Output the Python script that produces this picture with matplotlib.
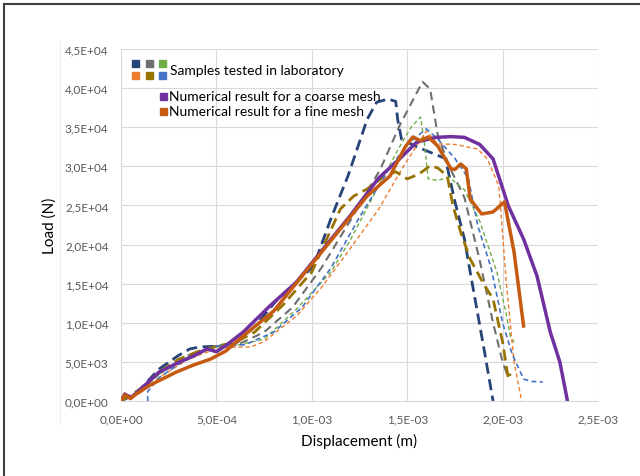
import matplotlib

matplotlib.use("Agg")
import matplotlib.pyplot as plt
from matplotlib.lines import Line2D
from matplotlib.patches import Rectangle
from matplotlib.ticker import FuncFormatter, MultipleLocator

plt.rcParams["font.family"] = ["Lato", "DejaVu Sans"]

# displacement in 1e-3 m, load in N
coarse_x = [0, 0.02, 0.05, 0.08, 0.12, 0.2, 0.3, 0.38, 0.45, 0.5, 0.55, 0.64, 0.78, 0.92,
            1.03, 1.2, 1.35, 1.46, 1.55, 1.65, 1.73, 1.8, 1.88, 1.95, 2.03, 2.11, 2.18,
            2.25, 2.3, 2.34]
coarse_y = [0, 900, 400, 1000, 1900, 3700, 4900, 5750, 6650, 6300, 7100, 8800, 12150, 15200,
            18550, 23650, 28500, 30950, 33100, 33700, 33800, 33700, 32800, 30950, 24940,
            20700, 16000, 8800, 4990, 0]

fine_x = [0, 0.02, 0.05, 0.08, 0.15, 0.29, 0.38, 0.47, 0.55, 0.64, 0.8, 1.0, 1.15, 1.29,
          1.41, 1.49, 1.53, 1.57, 1.61, 1.66, 1.73, 1.75, 1.78, 1.81, 1.83, 1.89, 1.95,
          2.01, 2.06, 2.11]
fine_y = [0, 800, 300, 900, 2000, 3700, 4600, 5370, 6400, 8300, 11500, 17500, 22000, 26200,
          28770, 32500, 33760, 33250, 33760, 32600, 29670, 29600, 30300, 29670, 25830,
          23910, 24170, 25450, 19050, 9590]

navy_x = [0, 0.05, 0.1, 0.2, 0.3, 0.36, 0.41, 0.52, 0.61, 0.7, 0.82, 1.01, 1.1, 1.19, 1.29,
          1.34, 1.4, 1.44, 1.45, 1.47, 1.55, 1.62, 1.7, 1.75, 1.8, 1.83, 1.9, 1.95]
navy_y = [0, 600, 1500, 4100, 5800, 6650, 6900, 7030, 7540, 9500, 13000, 17260, 23300,
          28800, 36000, 38200, 38600, 38300, 36000, 33500, 32500, 31800, 31000, 25500,
          20700, 16500, 7000, 0]

gray_x = [0, 0.1, 0.2, 0.35, 0.5, 0.62, 0.75, 0.9, 1.05, 1.2, 1.36, 1.46, 1.58, 1.62, 1.66,
          1.72, 1.8, 1.88, 1.95, 2.0, 2.03]
gray_y = [0, 1200, 3500, 5800, 7000, 7300, 8800, 12000, 17000, 23000, 29670, 35200, 40800,
          39900, 34000, 30000, 26000, 18000, 10000, 5000, 3000]

green_x = [0, 0.1, 0.2, 0.35, 0.5, 0.62, 0.75, 0.92, 1.1, 1.2, 1.35, 1.46, 1.52, 1.57, 1.59,
           1.61, 1.66, 1.72, 1.8, 1.88, 1.97, 2.02, 2.04, 2.06]
green_y = [0, 1300, 3400, 5600, 6900, 7200, 7900, 11760, 16500, 20500, 27500, 32500, 35000,
           36300, 33000, 28400, 28200, 28600, 27000, 23000, 16500, 11000, 8310, 7500]

orange_x = [0, 0.1, 0.2, 0.35, 0.5, 0.6, 0.68, 0.75, 0.92, 1.05, 1.2, 1.35, 1.48, 1.6, 1.66,
            1.75, 1.87, 1.92, 1.98, 2.02, 2.06, 2.1]
orange_y = [0, 1000, 3000, 5300, 6700, 6900, 6900, 7600, 10870, 14500, 19440, 24500, 30000,
            34500, 32870, 32800, 32200, 30950, 27500, 15000, 5000, 0]

olive_x = [0, 0.1, 0.2, 0.3, 0.4, 0.5, 0.6, 0.7, 0.85, 1.0, 1.15, 1.22, 1.29, 1.38, 1.44,
           1.5, 1.56, 1.62, 1.66, 1.71, 1.74, 1.78, 1.83, 1.9, 1.95, 2.0, 2.03, 2.04]
olive_y = [0, 1500, 3700, 5300, 6300, 7000, 7500, 8800, 12300, 16500, 24550, 26200, 27100,
           28770, 29300, 28390, 29000, 30050, 29800, 28770, 24940, 21600, 18150, 15000,
           13040, 7540, 2810, 3500]

blue_x = [0.14, 0.14, 0.2, 0.35, 0.5, 0.65, 0.8, 0.95, 1.1, 1.25, 1.4, 1.5, 1.6, 1.66, 1.75,
          1.82, 1.87, 1.94, 2.0, 2.05, 2.11, 2.15, 2.21]
blue_y = [0, 1200, 3000, 5500, 7000, 7200, 8800, 12000, 17000, 23500, 29500, 32800, 34780,
          33500, 31000, 28500, 22400, 17000, 10000, 6000, 2810, 2500, 2430]

samples = [
    (navy_x, navy_y, "#264478", 2.0, (4, 2)),
    (gray_x, gray_y, "#6f6f6f", 1.5, (4, 2.5)),
    (green_x, green_y, "#70ad47", 1.0, (3, 2)),
    (orange_x, orange_y, "#ed7d31", 1.0, (3, 2)),
    (olive_x, olive_y, "#997300", 2.0, (4, 2)),
    (blue_x, blue_y, "#4472c4", 1.2, (3, 2)),
]
legend_colors = ["#264478", "#6f6f6f", "#70ad47", "#ed7d31", "#997300", "#4472c4"]

W, H = 640, 477
fig = plt.figure(figsize=(W / 100, H / 100), dpi=100)
ax = fig.add_axes([121 / W, 1 - 402 / H, (598 - 121) / W, (402 - 50) / H])


def scale_x(xs):
    return [v * 1e-3 for v in xs]


for xs, ys, color, lw, dash in samples:
    ax.plot(scale_x(xs), ys, color=color, lw=lw, dashes=dash)
ax.plot(scale_x(coarse_x), coarse_y, color="#7030a0", lw=2.5)
ax.plot(scale_x(fine_x), fine_y, color="#c55a11", lw=2.5)

ax.set_xlim(0, 2.5e-3)
ax.set_ylim(0, 45000)
ax.xaxis.set_major_locator(MultipleLocator(0.5e-3))
ax.yaxis.set_major_locator(MultipleLocator(5000))
sci = FuncFormatter(lambda v, p: f"{v:.1E}".replace(".", ","))
ax.xaxis.set_major_formatter(sci)
ax.yaxis.set_major_formatter(sci)
ax.grid(True, color="#d9d9d9", lw=0.8)
ax.set_axisbelow(True)
for side in ["top", "right", "left"]:
    ax.spines[side].set_visible(False)
ax.spines["bottom"].set_color("#d9d9d9")
ax.tick_params(length=0, labelsize=8.5, labelcolor="#595959", pad=9)
ax.set_xlabel("Displacement (m)", fontsize=11, labelpad=6)
ax.set_ylabel("Load (N)", fontsize=11, labelpad=6)

# custom legend, drawn in pixel positions of the figure
def fx(px):
    return px / W


def fy(py):
    return 1 - py / H


sq = 7
for i, c in enumerate(legend_colors):
    col, row = i % 3, i // 3
    x0 = 132 + col * 13.5
    y0 = 61 + row * 11.5
    fig.add_artist(Rectangle((fx(x0), fy(y0 + sq)), sq / W, sq / H, color=c,
                             transform=fig.transFigure))
fig.text(fx(170), fy(71), "Samples tested in laboratory", fontsize=10, va="center")
for py, c, label in [(97, "#7030a0", "Numerical result for a coarse mesh"),
                     (112, "#c55a11", "Numerical result for a fine mesh")]:
    fig.add_artist(Rectangle((fx(159.5), fy(py + 3.5)), sq / W, sq / H, color=c,
                             transform=fig.transFigure))
    fig.text(fx(169), fy(py), label, fontsize=10, va="center")

# screenshot frame (left and top edge) and faint chart-area edge
fig.add_artist(Line2D([fx(4), fx(4)], [0, fy(5)], color="#404040", lw=1.5,
                      transform=fig.transFigure))
fig.add_artist(Line2D([fx(4), 1], [fy(5), fy(5)], color="#404040", lw=1.5,
                      transform=fig.transFigure))
fig.add_artist(Line2D([fx(60), fx(60)], [fy(425), fy(42)], color="#eeeeee", lw=0.8,
                      transform=fig.transFigure))

fig.savefig("out.png", dpi=100)
